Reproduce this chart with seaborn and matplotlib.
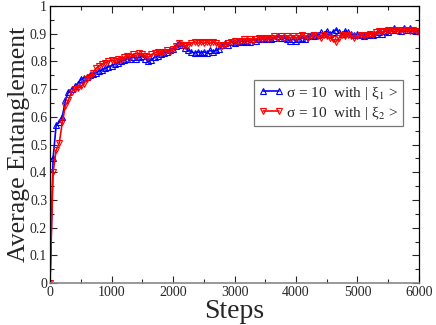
import numpy as np
import matplotlib
matplotlib.use("Agg")
import matplotlib.pyplot as plt
import seaborn as sns

# passos (a cada 50)
steps = np.arange(0, 6001, 50)

blue_xi1 = [
    0.0, 0.45, 0.57, 0.58, 0.60, 0.66, 0.69, 0.70, 0.71, 0.72,
    0.735, 0.74, 0.745, 0.75, 0.755, 0.76, 0.765, 0.77, 0.775, 0.78,
    0.785, 0.79, 0.795, 0.80, 0.805, 0.81, 0.81, 0.815, 0.81, 0.815,
    0.82, 0.81, 0.80, 0.805, 0.815, 0.82, 0.825, 0.83, 0.835, 0.84,
    0.845, 0.855, 0.865, 0.86, 0.85, 0.84, 0.835, 0.83, 0.835, 0.83,
    0.835, 0.83, 0.84, 0.835, 0.84, 0.845, 0.86, 0.865, 0.86, 0.87,
    0.865, 0.87, 0.875, 0.87, 0.875, 0.87, 0.88, 0.875, 0.88, 0.885,
    0.88, 0.885, 0.88, 0.885, 0.89, 0.885, 0.885, 0.88, 0.875, 0.88,
    0.875, 0.88, 0.885, 0.88, 0.89, 0.895, 0.89, 0.895, 0.905, 0.90,
    0.91, 0.90, 0.905, 0.915, 0.905, 0.90, 0.91, 0.905, 0.90, 0.895,
    0.90, 0.895, 0.89, 0.895, 0.90, 0.895, 0.90, 0.905, 0.90, 0.91,
    0.905, 0.915, 0.92, 0.915, 0.91, 0.92, 0.915, 0.92, 0.915, 0.91,
    0.91,
]

red_xi2 = [
    0.0, 0.40, 0.48, 0.505, 0.58, 0.64, 0.66, 0.69, 0.70, 0.705,
    0.71, 0.72, 0.735, 0.745, 0.76, 0.775, 0.785, 0.79, 0.795, 0.80,
    0.805, 0.80, 0.81, 0.805, 0.815, 0.82, 0.815, 0.825, 0.82, 0.83,
    0.825, 0.82, 0.815, 0.825, 0.83, 0.835, 0.83, 0.835, 0.84, 0.835,
    0.845, 0.855, 0.865, 0.86, 0.855, 0.86, 0.865, 0.87, 0.865, 0.87,
    0.865, 0.87, 0.865, 0.87, 0.865, 0.86, 0.855, 0.86, 0.865, 0.87,
    0.875, 0.87, 0.875, 0.88, 0.875, 0.88, 0.875, 0.88, 0.885, 0.88,
    0.885, 0.88, 0.885, 0.89, 0.885, 0.89, 0.885, 0.89, 0.885, 0.89,
    0.885, 0.89, 0.895, 0.89, 0.885, 0.89, 0.895, 0.89, 0.885, 0.895,
    0.89, 0.885, 0.88, 0.87, 0.885, 0.895, 0.89, 0.895, 0.89, 0.885,
    0.89, 0.895, 0.89, 0.895, 0.90, 0.895, 0.905, 0.91, 0.905, 0.91,
    0.915, 0.91, 0.915, 0.91, 0.915, 0.91, 0.915, 0.91, 0.915, 0.91,
    0.905,
]

labels = [r"σ = 10  with | ξ$_1$ >", r"σ = 10  with | ξ$_2$ >"]

sns.set_style("ticks")
plt.rcParams["font.family"] = ["Liberation Serif", "DejaVu Serif"]
plt.rcParams["mathtext.fontset"] = "stix"

fig = plt.figure(figsize=(4.36, 3.25), dpi=100)
ax = fig.add_axes([0.1147, 0.129, 0.8463, 0.8525])

sns.lineplot(x=steps, y=blue_xi1, ax=ax, color="blue", lw=1.2, marker="^",
             markersize=5, markerfacecolor="none", markeredgecolor="blue",
             markeredgewidth=0.8, label=labels[0])
sns.lineplot(x=steps, y=red_xi2, ax=ax, color="red", lw=1.2, marker="v",
             markersize=5, markerfacecolor="none", markeredgecolor="red",
             markeredgewidth=0.8, label=labels[1])

ax.set_xlim(0, 6000)
ax.set_ylim(0, 1)
ax.set_xticks(range(0, 6001, 1000))
ax.set_xticks(range(0, 6001, 500), minor=True)
ax.set_yticks(np.arange(0, 1.01, 0.1))
ax.set_yticks(np.arange(0, 1.01, 0.05), minor=True)
ax.set_yticklabels(["0", "0.1", "0.2", "0.3", "0.4", "0.5", "0.6", "0.7", "0.8", "0.9", "1"])
ax.tick_params(which="both", direction="in", top=True, right=True, labelsize=10, pad=2)
ax.tick_params(which="major", length=5, width=0.8)
ax.tick_params(which="minor", length=3, width=0.8)

for s in ["left", "top", "right"]:
    ax.spines[s].set_color("black")
    ax.spines[s].set_linewidth(0.9)
ax.spines["bottom"].set_color("#888888")
ax.spines["bottom"].set_linewidth(1.2)

ax.set_xlabel("Steps", fontsize=20, labelpad=0)
ax.set_ylabel("Average Entanglement", fontsize=18.5, labelpad=0)

leg = ax.legend(loc="upper left", bbox_to_anchor=(0.553, 0.733), borderaxespad=0,
                fontsize=11, frameon=True, fancybox=False, numpoints=2,
                handlelength=1.6, handletextpad=0.2, borderpad=0.3, labelspacing=0.2)
leg.get_frame().set_edgecolor("#555555")
leg.get_frame().set_linewidth(0.9)

fig.savefig("out.png", dpi=100)
